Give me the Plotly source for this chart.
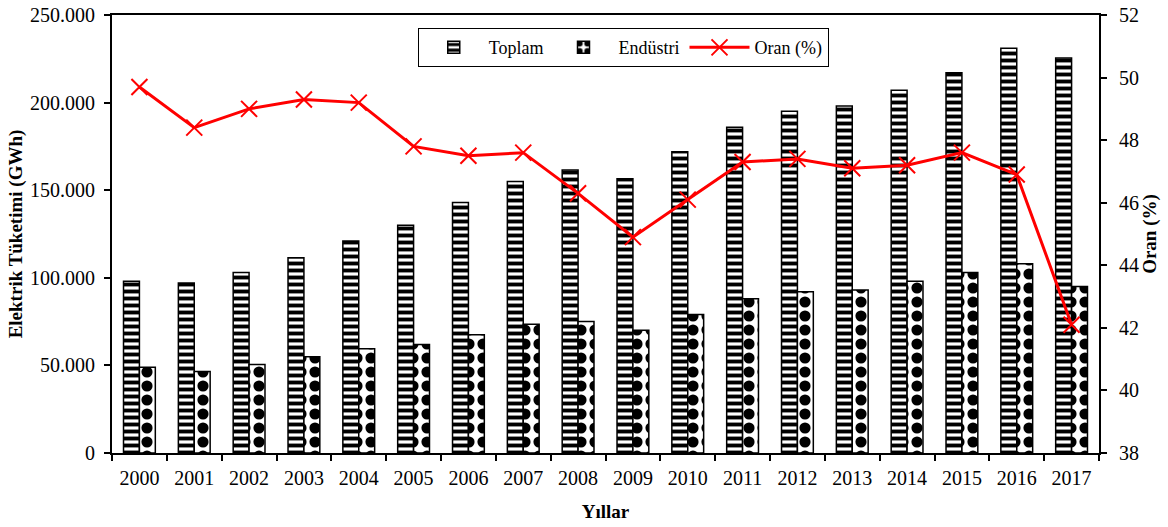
import plotly.graph_objects as go

years = [str(y) for y in range(2000, 2018)]
toplam = [98000, 97000, 103000, 111500, 121000, 130000, 143000, 155000, 161500,
          156500, 172000, 186000, 195000, 198000, 207000, 217000, 231000, 225500]
endustri = [49000, 46500, 50500, 55000, 59500, 62000, 67500, 73500, 75000,
            70000, 79000, 88000, 92000, 93000, 98000, 103000, 108000, 95000]
oran = [49.7, 48.4, 49.0, 49.3, 49.2, 47.8, 47.5, 47.6, 46.3,
        44.9, 46.1, 47.3, 47.4, 47.1, 47.2, 47.6, 46.9, 42.1]

font_family = "Liberation Serif"
xr = [-0.5, len(years) - 0.5]

fig = go.Figure()
fig.add_trace(go.Bar(
    x=years, y=toplam, name="Toplam",
    marker=dict(color="white", line=dict(color="black", width=1.5),
                pattern=dict(shape="-", fgcolor="black", bgcolor="white", fgopacity=1,
                             size=7, solidity=0.55, fillmode="overlay")),
))
fig.add_trace(go.Bar(
    x=years, y=endustri, name="Endüstri",
    marker=dict(color="white", line=dict(color="black", width=1.5),
                pattern=dict(shape=".", fgcolor="black", bgcolor="white", fgopacity=1,
                             size=14, solidity=0.5, fillmode="overlay")),
))
fig.add_trace(go.Scatter(
    x=years, y=oran, name="Oran (%)", yaxis="y2", mode="lines+markers",
    line=dict(color="#ff0000", width=3),
    marker=dict(symbol="x-thin", size=16, color="#ff0000",
                line=dict(color="#ff0000", width=2)),
))

fig.update_layout(
    width=1168, height=527,
    margin=dict(l=112, r=69, t=15, b=74, autoexpand=False),
    paper_bgcolor="white", plot_bgcolor="white",
    separators=",.",
    font=dict(family=font_family, size=20, color="black"),
    barmode="group", bargap=0.42, bargroupgap=0,
    showlegend=True,
    legend=dict(orientation="h", x=0.518, y=0.97, xanchor="center", yanchor="top",
                bordercolor="black", borderwidth=1, bgcolor="white",
                font=dict(family=font_family, size=18), itemwidth=60,
                tracegroupgap=0),
    xaxis=dict(
        type="category", range=xr, showline=True, linecolor="black", linewidth=2,
        mirror=True, ticks="outside", tickson="boundaries", ticklen=6,
        tickcolor="black", tickwidth=1.5, showgrid=False, automargin=False,
        ticklabelstandoff=6,
        title=dict(text="<b>Yıllar</b>", font=dict(family=font_family, size=19), standoff=17),
        tickfont=dict(family=font_family, size=20),
    ),
    xaxis2=dict(
        type="category", overlaying="x", range=xr, categoryarray=years,
        categoryorder="array", ticks="inside", tickson="boundaries", ticklen=5,
        tickcolor="black", tickwidth=1.5, showticklabels=False, showgrid=False,
        showline=False, automargin=False,
    ),
    yaxis=dict(
        range=[0, 250000], dtick=50000, tickformat=",d",
        showline=True, linecolor="black", linewidth=2, ticks="outside",
        ticklen=6, tickcolor="black", tickwidth=1.5, showgrid=False, zeroline=False,
        automargin=False, ticklabelstandoff=5,
        title=dict(text="<b>Elektrik Tüketimi (GWh)</b>", font=dict(family=font_family, size=19), standoff=2),
        tickfont=dict(family=font_family, size=20),
    ),
    yaxis3=dict(
        overlaying="y", range=[0, 250000], dtick=50000, ticks="inside",
        ticklen=6, tickcolor="black", tickwidth=1.5, showticklabels=False,
        showgrid=False, zeroline=False, showline=False, automargin=False,
    ),
    yaxis2=dict(
        range=[38, 52], dtick=2, overlaying="y", side="right",
        showline=True, linecolor="black", linewidth=2, ticks="outside",
        ticklen=6, tickcolor="black", tickwidth=1.5, showgrid=False, zeroline=False,
        automargin=False, ticklabelstandoff=8,
        title=dict(text="<b>Oran (%)</b>", font=dict(family=font_family, size=19), standoff=5),
        tickfont=dict(family=font_family, size=20),
    ),
    yaxis4=dict(
        range=[38, 52], dtick=2, overlaying="y", side="right",
        ticks="inside", ticklen=6, tickcolor="black", tickwidth=1.5,
        showticklabels=False, showgrid=False, zeroline=False, showline=False,
        automargin=False,
    ),
)

fig.write_html("out.html", config={"displayModeBar": False},
               post_script="document.body.style.margin='0px';")
